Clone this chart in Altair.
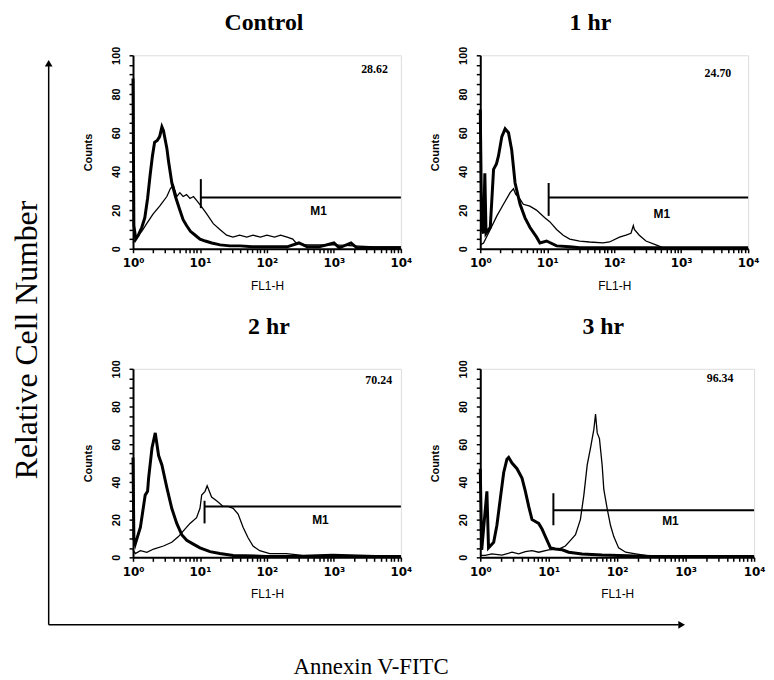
import altair as alt
import pandas as pd

# ---------------- data ----------------
# Control
ctrl_neg_x = [1.0, 1.03, 1.1, 1.2, 1.35, 1.5, 1.65, 1.8, 1.95, 2.1, 2.3, 2.5, 2.7, 2.85, 3.0, 3.2, 3.4, 3.8, 4.3, 5.0,
              5.6, 6.3, 7.2, 8.5, 10, 12, 15, 20, 28, 40, 60, 100, 200, 300, 400, 600, 1000, 1200, 1800, 2200, 3000, 10000]
ctrl_neg_y = [88, 12, 5, 7, 11, 16, 26, 38, 48, 55, 56, 58, 63, 61, 57, 52, 45, 34, 27, 20,
              15, 12, 9, 7, 5, 4, 3, 2, 1.5, 1.5, 1, 1, 1, 3, 1, 1, 3, 0.5, 3, 0.5, 0.5, 0.5]
ctrl_pos_x = [1.0, 1.15, 1.35, 1.6, 2.0, 2.5, 3.2, 3.6, 4.0, 4.5, 5.0, 5.6, 6.3, 7.1, 8.0, 8.9, 10.4, 12.6, 15.8, 19.8,
              25, 31, 39, 50, 62, 80, 100, 130, 160, 200, 243, 272, 383, 600, 1000, 2000, 4000, 10000]
ctrl_pos_y = [3, 6, 9, 13, 18, 22, 27, 31, 33, 27, 29, 27, 28, 26, 27, 25, 22, 18, 13, 10,
              7, 6, 7, 6, 7, 6, 7, 6, 7, 6, 5, 3, 2, 2, 2, 1.5, 1, 1]

# 1 hr
hr1_neg_x = [1.0, 1.05, 1.12, 1.17, 1.22, 1.41, 1.58, 1.75, 1.87, 2.1, 2.35, 2.64, 2.95, 3.31, 3.93, 4.66, 5.53,
             6.94, 7.78, 9.77, 13.8, 21.7, 30.5, 100, 10000]
hr1_neg_y = [72, 10, 8, 39, 8, 11, 41, 44, 48, 58, 62, 60, 51, 34, 23, 16, 11, 6, 3, 4, 1.5, 1, 0.5, 0.5, 0.5]
hr1_pos_x = [1.0, 1.12, 1.41, 1.77, 2.22, 2.79, 3.13, 3.4, 3.7, 4.4, 5.5, 6.9, 9.2, 10.9, 13.8, 17.3, 21.7, 30.5,
             43, 68, 85, 120, 150, 178, 193, 200, 237, 298, 420, 590, 10000]
hr1_pos_y = [2, 3, 10, 17, 23, 29, 31, 28, 27, 23, 22, 20, 16, 14, 10, 7, 5, 4,
             3.5, 3, 3.5, 6, 7, 8, 12, 10, 7, 4, 2, 0, 0]

# 2 hr
hr2_neg_x = [1.0, 1.03, 1.08, 1.29, 1.52, 1.65, 1.71, 1.92, 2.15, 2.41, 2.7, 3.2, 3.79, 4.5, 5.34, 6.34, 7.96, 10,
             14.1, 19.8, 31.3, 100, 10000]
hr2_neg_y = [53, 10, 7, 16, 33, 35, 42, 58, 66, 54, 49, 37, 26, 18, 12, 9, 7, 5, 3, 2, 1, 0.5, 0.5]
hr2_pos_x = [1.0, 1.08, 1.29, 1.61, 2.03, 2.85, 3.79, 4.77, 5.65, 7.1, 8.9, 10, 10.6, 11.9, 12.8, 14.9, 17.7, 22.2,
             26.3, 31.3, 37.1, 44, 52, 62, 78, 110, 194, 343, 955, 10000]
hr2_pos_y = [4, 2, 3.5, 2.6, 4.4, 6, 8, 11, 14, 18, 21, 26, 33, 35, 38, 32, 30, 27,
             27, 26, 23, 16, 10.5, 6, 3.5, 2, 2, 1, 1.5, 0.5]

# 3 hr
hr3_neg_x = [1.0, 1.05, 1.25, 1.32, 1.57, 1.75, 1.96, 2.2, 2.45, 2.6, 2.91, 3.44, 4.07, 4.56, 5.1, 5.7, 6.38, 7.14,
             7.98, 8.94, 10.6, 12.5, 15.7, 19.6, 30.7, 60, 106, 325, 10000]
hr3_neg_y = [47, 4, 35, 5, 8, 17, 31, 45, 52, 53, 50, 47, 42, 35, 27, 20, 19, 18, 15, 11, 5, 4.4, 4, 2.7, 1.8,
             1.2, 1, 0.5, 0.5]
hr3_pos_x = [1.0, 1.18, 1.48, 2.07, 2.91, 3.64, 4.56, 5.7, 7.14, 10, 14, 17.5, 20.8, 24.6, 29.0, 32.6, 36.5, 40.8,
             45.7, 48.3, 51.1, 55.1, 60.3, 63.8, 71.3, 79.8, 89.2, 105, 133, 186, 325, 10000]
hr3_pos_y = [1, 1, 1.8, 1.2, 2.7, 1.8, 3, 3.5, 2.7, 4, 4.4, 6, 9, 12, 20, 33, 49, 58,
             68, 76, 66, 63, 49, 36, 26, 17, 11, 5, 2.7, 1.8, 0.5, 0.5]

panel_titles = ["Control", "1 hr", "2 hr", "3 hr"]
percents = ["28.62", "24.70", "70.24", "96.34"]
percent_x = [6400, 5600, 7400, 5000]
percent_y = [93, 91, 94, 95]
gate_start = [10.3, 10.5, 11.7, 11.7]
gate_level = [26.5, 26.5, 27, 25]
gate_low = [21, 17, 18, 17]
gate_high = [36, 34, 30, 34]
m1_x = [590, 515, 630, 600]
m1_y = [19.5, 18, 20, 19]
x_major = [1, 10, 100, 1000, 10000]
x_minor = [m * 10 ** d for d in range(4) for m in range(2, 10)]
y_ticks = list(range(0, 101, 5))

# ---------------- chart building ----------------
XSCALE = alt.Scale(type="log", domain=[1, 10000])
YSCALE = alt.Scale(domain=[0, 100])

xaxis = alt.Axis(
    values=sorted(x_major + x_minor),
    labelExpr="datum.value == 1 ? '10⁰' : datum.value == 10 ? '10¹' : datum.value == 100 ? '10²' : "
              "datum.value == 1000 ? '10³' : datum.value == 10000 ? '10⁴' : ''",
    title="FL1-H", titleFont="Liberation Sans", titleFontSize=12, titleFontWeight="normal",
    titleColor="black", titlePadding=12,
    labelFont="DejaVu Sans", labelFontSize=12, labelFontWeight="bold", labelColor="black",
    labelPadding=5, labelOverlap=False, labelFlush=False, labelBound=False,
    tickSize=4, tickColor="black", tickWidth=1.5,
    domainColor="black", domainWidth=2, grid=False,
)
yaxis = alt.Axis(
    values=y_ticks,
    labelExpr="datum.value % 20 == 0 ? datum.label : ''",
    labelAngle=270, labelAlign="center", labelBaseline="bottom",
    labelFont="Liberation Sans", labelFontSize=11, labelFontWeight="bold", labelColor="black",
    labelPadding=8, labelOverlap=False, labelFlush=False, labelBound=False,
    title="Counts", titleFont="Liberation Sans", titleFontSize=11, titleFontWeight="bold",
    titleColor="black", titlePadding=17,
    tickSize=4, tickColor="black", tickWidth=1.5,
    domainColor="black", domainWidth=2, grid=False,
)


def panel(i, neg_x, neg_y, pos_x, pos_y, w, h, title_y, title_dx):
    neg = pd.DataFrame({"x": neg_x, "y": neg_y})
    pos = pd.DataFrame({"x": pos_x, "y": pos_y})
    X = alt.X("x:Q", scale=XSCALE, axis=xaxis)
    Y = alt.Y("y:Q", scale=YSCALE, axis=yaxis)
    thin = alt.Chart(pos).mark_line(color="black", strokeWidth=1.3).encode(x=X, y=Y)
    thick = alt.Chart(neg).mark_line(color="black", strokeWidth=3).encode(x=X, y=Y)
    gate = pd.DataFrame({"x": [gate_start[i]], "x2": [10000], "y": [gate_level[i]],
                         "lo": [gate_low[i]], "hi": [gate_high[i]]})
    hrule = alt.Chart(gate).mark_rule(color="black", strokeWidth=2).encode(
        x=X, x2="x2:Q", y=Y)
    vrule = alt.Chart(gate).mark_rule(color="black", strokeWidth=2).encode(
        x=X, y=alt.Y("lo:Q", scale=YSCALE, axis=yaxis), y2="hi:Q")
    m1 = pd.DataFrame({"x": [m1_x[i]], "y": [m1_y[i]], "t": ["M1"]})
    m1t = alt.Chart(m1).mark_text(font="Liberation Sans", fontSize=12, fontWeight="bold",
                                  color="black", align="center", baseline="middle").encode(
        x=X, y=Y, text="t:N")
    pc = pd.DataFrame({"x": [percent_x[i]], "y": [percent_y[i]], "t": [percents[i]]})
    pct = alt.Chart(pc).mark_text(font="Liberation Serif", fontSize=12, fontWeight="bold",
                                  color="black", align="right", baseline="middle").encode(
        x=X, y=Y, text="t:N")
    ttl = alt.Chart(pd.DataFrame({"t": [panel_titles[i]]})).mark_text(
        font="Liberation Serif", fontSize=24, fontWeight="bold", color="black",
        align="center", baseline="alphabetic").encode(
        x=alt.value(w / 2 + title_dx), y=alt.value(title_y), text="t:N")
    return alt.layer(thin, thick, hrule, vrule, m1t, pct, ttl).properties(width=w, height=h)


ctrl = panel(0, ctrl_neg_x, ctrl_neg_y, ctrl_pos_x, ctrl_pos_y, 270, 195, -25, -3)
hr1 = panel(1, hr1_neg_x, hr1_neg_y, hr1_pos_x, hr1_pos_y, 270, 195, -25, -24)
hr2 = panel(2, hr2_neg_x, hr2_neg_y, hr2_pos_x, hr2_pos_y, 270, 190, -35, 2)
hr3 = panel(3, hr3_neg_x, hr3_neg_y, hr3_pos_x, hr3_pos_y, 276, 190, -35, -14)

dummy = pd.DataFrame({"d": [0]})
AX = 37      # outer axis x within the strip
AY = 574     # outer axis y within the strip
v_line = alt.Chart(dummy).mark_rule(color="black", strokeWidth=1.5).encode(
    x=alt.value(AX), y=alt.value(8), y2=alt.value(AY))
h_line = alt.Chart(dummy).mark_rule(color="black", strokeWidth=1.5).encode(
    x=alt.value(AX), x2=alt.value(672), y=alt.value(AY))
up_head = alt.Chart(dummy).mark_point(shape="triangle-up", filled=True, size=60, color="black",
                                      opacity=1).encode(x=alt.value(AX), y=alt.value(8))
right_head = alt.Chart(dummy).mark_point(shape="triangle-right", filled=True, size=60, color="black",
                                         opacity=1).encode(x=alt.value(675), y=alt.value(AY))
y_label = alt.Chart(dummy).mark_text(angle=270, font="Liberation Serif", fontSize=32, color="black",
                                     align="center", baseline="middle").encode(
    x=alt.value(15.5), y=alt.value(287), text=alt.value("Relative Cell Number"))
x_label = alt.Chart(dummy).mark_text(font="Liberation Serif", fontSize=23, color="black",
                                     align="center", baseline="middle").encode(
    x=alt.value(362), y=alt.value(617), text=alt.value("Annexin V-FITC"))

strip_top = alt.layer(v_line, h_line, up_head, right_head, y_label, x_label).properties(
    width=42, height=195, view=alt.ViewBackground(stroke="transparent"))
strip_bot = alt.Chart(dummy).mark_point(opacity=0).encode(
    x=alt.value(0), y=alt.value(0)).properties(
    width=42, height=190, view=alt.ViewBackground(stroke="transparent"))

chart = alt.concat(
    strip_top, ctrl, hr1, strip_bot, hr2, hr3,
    columns=3, spacing={"row": 121, "column": 80}, bounds="flush", align="each",
).properties(padding=0).configure_view(stroke="black", strokeWidth=2).configure(background="white")

chart.save("out.html", embed_options={"renderer": "svg", "actions": False})
